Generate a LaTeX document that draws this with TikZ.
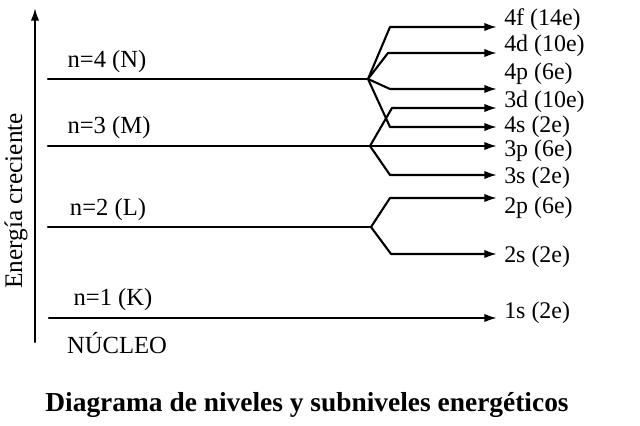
\documentclass[tikz,border=0pt]{standalone}
\usepackage{fontspec}
\setmainfont{Liberation Serif}
\usetikzlibrary{arrows.meta}
\begin{document}
\begin{tikzpicture}[x=0.025cm, y=-0.025cm, line join=round, line cap=round,
	nivel/.style={line width=1.5pt},
	flecha/.style={line width=1.5pt, -{Latex[length=9pt,width=6pt]}},
	sub/.style={anchor=west, inner sep=0pt, font=\fontsize{17}{17}\selectfont},
	capa/.style={inner sep=0pt, font=\fontsize{17.5}{17.5}\selectfont}]
	\useasboundingbox (0,0) rectangle (640,426);
	% eje
	\coordinate (e0) at (35,342);
	\coordinate (e1) at (35,8);
	\draw[flecha] (e0)--(e1);
	\node[rotate=90, inner sep=0pt, font=\fontsize{18}{18}\selectfont] (eje) at (16,201) {Energía creciente};
	% niveles
	\coordinate (K0) at (49,318); \coordinate (K1) at (497,318);
	\coordinate (L0) at (48,227); \coordinate (Lb) at (371,227);
	\coordinate (M0) at (48,146); \coordinate (Mb) at (370,146); \coordinate (M1) at (497,146);
	\coordinate (N0) at (48,79);  \coordinate (Nb) at (368,79);
	\draw[flecha] (K0)--(K1);
	\draw[nivel] (L0)--(Lb) (N0)--(Nb);
	\draw[flecha] (M0)--(Mb)--(M1);
	\node[capa] (nK) at (113,300) {n=1 (K)};
	\node[capa] (nL) at (108,210) {n=2 (L)};
	\node[capa] (nM) at (109,128) {n=3 (M)};
	\node[capa] (nN) at (107,62) {n=4 (N)};
	\node[capa] (nuc) at (117,343) {NÚCLEO};
	% subniveles
	\foreach \nom/\nb/\x/\y in {4f/Nb/390/27, 4d/Nb/388/53, 4p/Nb/390/89, 4s/Nb/390/127,
		3d/Mb/392/108, 3s/Mb/390/175, 2p/Lb/390/198, 2s/Lb/391/254}
	{
		\coordinate (c\nom) at (\x,\y);
		\coordinate (f\nom) at (497,\y);
		\draw[flecha] (\nb)--(c\nom)--(f\nom);
	}
	\node[sub] (t4f) at (504,20)  {4f (14e)};
	\node[sub] (t4d) at (504,46)  {4d (10e)};
	\node[sub] (t4p) at (504,74)  {4p (6e)};
	\node[sub] (t3d) at (504,102) {3d (10e)};
	\node[sub] (t4s) at (504,127) {4s (2e)};
	\node[sub] (t3p) at (504,151) {3p (6e)};
	\node[sub] (t3s) at (504,178) {3s (2e)};
	\node[sub] (t2p) at (504,208) {2p (6e)};
	\node[sub] (t2s) at (504,257) {2s (2e)};
	\node[sub] (t1s) at (504,313) {1s (2e)};
	% titulo
	\node[inner sep=0pt, font=\fontsize{19.5}{19.5}\selectfont\bfseries] (tit) at (307,405) {Diagrama de niveles y subniveles energéticos};
\end{tikzpicture}
\end{document}
